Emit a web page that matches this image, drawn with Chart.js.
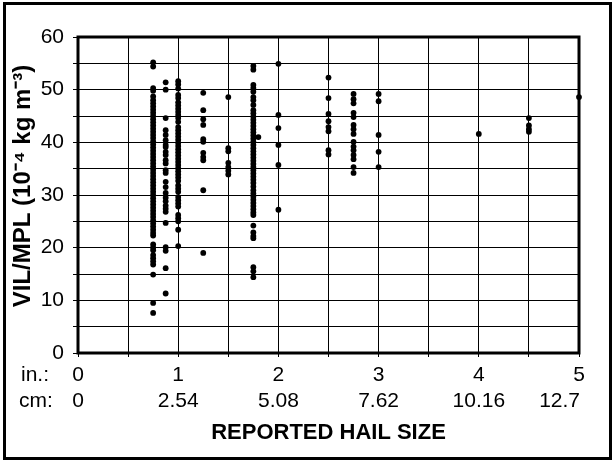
<!DOCTYPE html>
<html><head><meta charset="utf-8">
<script src="https://cdn.jsdelivr.net/npm/chart.js@4/dist/chart.umd.min.js"></script>
<style>html,body{margin:0;padding:0;background:#fff}</style>
</head><body>
<canvas id="c" width="615" height="462"></canvas>
<script>
// Reported hail size (inches) for each column of points
const hailSizeIn = [0.75, 0.875, 1.0, 1.25, 1.5, 1.75, 1.8, 2.0, 2.5, 2.75, 3.0, 4.0, 4.5, 5.0];
// VIL/MPL values (10^-4 kg m^-3) read for each hail size
const vil_075 = [55.2, 54.4, 50.3, 49.8, 48.7, 48.0, 47.4, 46.8, 46.2, 45.6, 45.0, 44.4, 43.8, 43.2, 42.6, 42.0, 41.4, 40.8, 40.2, 39.6, 39.0, 38.4, 37.8, 37.2, 36.6, 36.0, 35.4, 34.8, 34.2, 33.6, 33.0, 32.4, 31.8, 31.2, 30.6, 30.0, 29.4, 28.8, 28.2, 27.6, 27.0, 26.4, 25.8, 25.2, 24.6, 24.0, 23.4, 22.8, 22.3, 20.6, 20.0, 19.5, 18.6, 18.0, 17.4, 16.8, 14.9, 9.5, 7.6];
const vil_0875 = [51.4, 50.0, 44.6, 42.3, 41.4, 40.4, 39.5, 39.1, 38.2, 37.6, 36.6, 36.0, 34.7, 34.2, 32.5, 31.5, 30.4, 29.5, 28.8, 28.0, 27.4, 26.8, 24.7, 20.1, 19.4, 16.1, 11.3];
const vil_100 = [51.6, 51.0, 50.2, 49.0, 48.4, 47.6, 47.0, 46.4, 45.8, 45.2, 44.6, 43.9, 42.9, 42.3, 41.7, 41.1, 40.5, 39.9, 39.3, 38.7, 38.1, 37.5, 36.9, 36.3, 35.7, 35.1, 34.5, 33.9, 33.3, 32.7, 31.8, 31.2, 30.6, 29.6, 29.0, 28.4, 27.8, 26.2, 25.6, 25.0, 23.4, 20.3];
const vil_125 = [49.4, 46.1, 44.4, 43.3, 40.6, 40.1, 38.0, 37.2, 36.6, 30.9, 19.0];
const vil_150 = [48.6, 38.9, 38.3, 36.1, 35.3, 34.6, 33.9];
const vil_175 = [54.5, 53.8, 50.9, 50.3, 49.6, 48.6, 48.0, 47.1, 46.1, 45.5, 44.9, 44.3, 43.7, 43.1, 42.5, 41.9, 41.3, 40.7, 40.1, 39.5, 38.9, 38.3, 37.7, 37.1, 36.5, 35.9, 35.3, 34.7, 34.1, 33.5, 32.9, 32.3, 31.6, 30.9, 30.3, 29.7, 29.1, 28.5, 27.9, 27.3, 26.7, 26.2, 24.2, 22.9, 22.2, 21.8, 16.3, 15.5, 14.4];
const vil_180 = [41.0];
const vil_200 = [54.9, 45.2, 42.7, 39.5, 35.7, 27.2];
const vil_250 = [52.3, 48.4, 45.4, 44.0, 42.9, 42.1, 38.5, 37.7];
const vil_275 = [49.2, 48.2, 47.4, 45.6, 44.8, 43.3, 42.5, 41.6, 40.1, 39.2, 38.5, 37.6, 36.8, 35.3, 34.2];
const vil_300 = [49.2, 47.8, 41.4, 38.2, 35.3];
const vil_400 = [41.6];
const vil_450 = [44.6, 43.2, 42.5, 42.0];
const vil_500 = [48.6];
const vilColumns = [vil_075, vil_0875, vil_100, vil_125, vil_150, vil_175, vil_180, vil_200, vil_250, vil_275, vil_300, vil_400, vil_450, vil_500];

// Axis labels
const inchTicks = [0, 1, 2, 3, 4, 5];
const cmLabels = ['0', '2.54', '5.08', '7.62', '10.16', '12.7'];
const rowLabels = ['in.:', 'cm:'];
const yTitle = 'VIL/MPL (10\u207B\u2074 kg m\u207B\u00B3)';
const xTitle = 'REPORTED HAIL SIZE';

const points = [];
hailSizeIn.forEach((s, i) => vilColumns[i].forEach(v => points.push({x: s, y: v})));

const FONT = '"Liberation Sans", Arial, sans-serif';

const decor = {
  id: 'decor',
  beforeDraw(chart) {
    const ctx = chart.ctx;
    ctx.save(); ctx.fillStyle = '#fff'; ctx.fillRect(0, 0, chart.width, chart.height); ctx.restore();
  },
  beforeDatasetsDraw(chart) {
    const {ctx, chartArea: a} = chart;
    ctx.save();
    ctx.strokeStyle = '#000'; ctx.lineWidth = 3;
    ctx.strokeRect(a.left, a.top, a.right - a.left, a.bottom - a.top);
    ctx.restore();
  },
  afterDraw(chart) {
    const {ctx, chartArea: a} = chart;
    const xs = chart.scales.x;
    ctx.save();
    ctx.fillStyle = '#000';
    ctx.font = '21px ' + FONT;
    ctx.textBaseline = 'middle';
    const y1 = a.bottom + 22, y2 = a.bottom + 48;
    inchTicks.forEach((v, i) => {
      const px = xs.getPixelForValue(v);
      ctx.textAlign = 'center';
      ctx.fillText(String(v), px, y1);
      ctx.textAlign = (i === inchTicks.length - 1) ? 'right' : 'center';
      ctx.fillText(cmLabels[i], (i === inchTicks.length - 1) ? px + 1 : px, y2);
    });
    ctx.textAlign = 'left';
    ctx.fillText(rowLabels[0], 21, y1);
    ctx.fillText(rowLabels[1], 19, y2);
    // y-axis title
    ctx.save();
    ctx.translate(23, (a.top + a.bottom) / 2 - 9);
    ctx.rotate(-Math.PI / 2);
    ctx.textAlign = 'center';
    ctx.font = 'bold 24px ' + FONT;
    ctx.fillText(yTitle, 0, 0);
    ctx.restore();
    // outer frame
    ctx.strokeStyle = '#000'; ctx.lineWidth = 3;
    ctx.strokeRect(4.5, 3.5, 606, 455);
    ctx.restore();
  }
};

new Chart(document.getElementById('c'), {
  type: 'scatter',
  data: { datasets: [{
    data: points, clip: false,
    backgroundColor: '#000', borderColor: '#000', borderWidth: 0,
    pointRadius: 2.9, pointHoverRadius: 2.9, pointStyle: 'circle'
  }]},
  options: {
    responsive: false, animation: false, devicePixelRatio: 1,
    layout: { padding: { left: 4, top: 37, right: 36, bottom: 10 } },
    plugins: { legend: { display: false }, tooltip: { enabled: false } },
    scales: {
      x: {
        type: 'linear', min: 0, max: 5,
        ticks: { stepSize: 0.5, display: false },
        grid: { color: '#000', lineWidth: 1, drawTicks: true, tickLength: 4, tickColor: '#000' },
        border: { display: false },
        title: { display: true, text: xTitle, color: '#000', font: { family: FONT, size: 22, weight: 'bold' }, padding: { top: 0, bottom: 6 } },
        afterFit(scale) { scale.height = 99; }
      },
      y: {
        min: 0, max: 60,
        ticks: { stepSize: 5, autoSkip: false, color: '#000', padding: 9, font: { family: FONT, size: 21 },
                 callback: v => (v % 10 === 0 ? String(v) : '') },
        grid: { color: '#000', lineWidth: 1, drawTicks: true, tickLength: 5, tickColor: '#000' },
        border: { display: false },
        title: { display: false },
        afterFit(scale) { scale.width = 74; }
      }
    }
  },
  plugins: [decor]
});
</script>
</body></html>
